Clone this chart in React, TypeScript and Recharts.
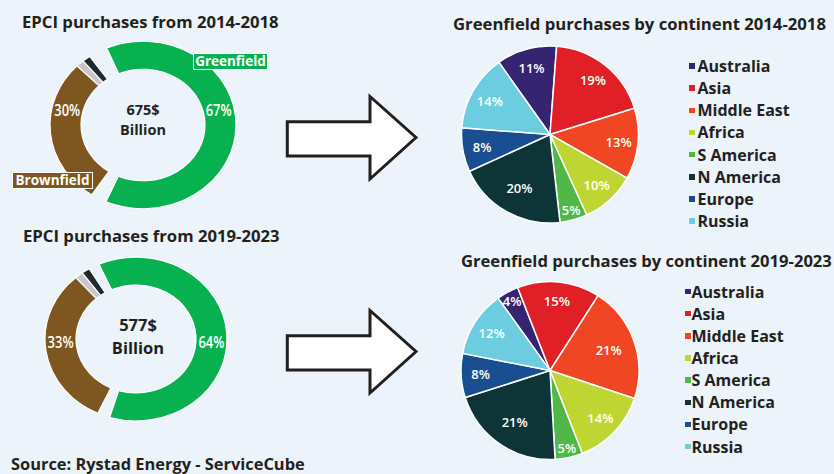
import React from 'react';
import { PieChart, Pie, Cell, Legend } from 'recharts';

const FONT = '"Open Sans", "Noto Sans", sans-serif';
const INK = '#231F20';
const BG = '#EDF3FA';

// ---- Donut data (EPCI purchases) ----
const donutCategories = ['Greenfield', 'Brownfield', 'Other A', 'Other B'];
const donutColors = ['#08B14F', '#7E561F', '#C9C6CA', '#1F2A2D'];
const donut2014Values = [67, 30, 1.5, 1.5];
const donut2019Values = [64, 33, 1.5, 1.5];
const donut2014Total = '675$';
const donut2019Total = '577$';
const donutTotalUnit = 'Billion';

// ---- Pie data (Greenfield purchases by continent) ----
const continents = ['Australia', 'Asia', 'Middle East', 'Africa', 'S America', 'N America', 'Europe', 'Russia'];
const continentColors = ['#352570', '#E01F27', '#F04624', '#BFD531', '#51B848', '#0D3537', '#194F91', '#6DCDE0'];
const greenfield2014 = [11, 19, 13, 10, 5, 20, 8, 14];
const greenfield2019 = [4, 15, 21, 14, 5, 21, 8, 12];

const RAD = Math.PI / 180;
const SY = 0.9; // vertical squash of the donuts

type Row = { name: string; value: number; fill: string; gap?: boolean };

function buildDonut(values: number[], gapAfterGreenDeg: number, gapBeforeGreenDeg: number): Row[] {
  const sum = values.reduce((a, b) => a + b, 0);
  const k = (360 - gapAfterGreenDeg - gapBeforeGreenDeg) / sum;
  const rows: Row[] = [];
  values.forEach((v, i) => {
    rows.push({ name: donutCategories[i], value: v, fill: donutColors[i] });
    if (i === 0) rows.push({ name: 'gap1', value: gapAfterGreenDeg / k, fill: 'none', gap: true });
  });
  rows.push({ name: 'gap2', value: gapBeforeGreenDeg / k, fill: 'none', gap: true });
  return rows;
}

function buildPie(values: number[]): Row[] {
  return continents.map((c, i) => ({ name: c, value: values[i], fill: continentColors[i] }));
}

const makeDonutLabel = (dyScreen: number) => (p: any) => {
  const name = p?.payload?.name ?? p?.name;
  if (name !== 'Greenfield' && name !== 'Brownfield') return null;
  const r = (p.innerRadius + p.outerRadius) / 2;
  const side = Math.cos(-p.midAngle * RAD) >= 0 ? 1 : -1;
  const dy = dyScreen / SY;
  const x = p.cx + side * Math.sqrt(r * r - dy * dy);
  const y = p.cy + dy;
  return (
    <g transform={`translate(${x},${y}) scale(1,${1 / SY})`}>
      <text
        x={0}
        y={0}
        textAnchor="middle"
        dominantBaseline="central"
        fill="#fff"
        fontFamily={FONT}
        fontWeight={600}
        fontSize={15.5}
        textLength={26}
        lengthAdjust="spacingAndGlyphs"
      >
        {`${p.value}%`}
      </text>
    </g>
  );
};

const renderPieLabel = (p: any) => {
  const pct = p.value;
  const f = pct <= 5 ? 0.89 : pct >= 20 ? 0.7 : 0.78;
  const r = p.outerRadius * f;
  const x = p.cx + r * Math.cos(-p.midAngle * RAD);
  const y = p.cy + r * Math.sin(-p.midAngle * RAD);
  return (
    <text
      x={x}
      y={y}
      textAnchor="middle"
      dominantBaseline="central"
      fill="#fff"
      fontFamily={FONT}
      fontWeight={600}
      fontSize={13}
    >
      {`${pct}%`}
    </text>
  );
};

const makeLegend = (sqSize: number, sqGap: number) => () => {
  return (
    <div style={{ fontFamily: FONT, fontWeight: 700, fontSize: 16, color: INK }}>
      {continents.map((n: string, idx: number) => (
        <div key={n} style={{ height: 22.15, lineHeight: '22px', display: 'flex', alignItems: 'center', whiteSpace: 'nowrap' }}>
          <span
            style={{
              display: 'inline-block',
              width: sqSize,
              height: sqSize,
              background: continentColors[idx],
              marginRight: sqGap,
            }}
          />
          <span>{n}</span>
        </div>
      ))}
    </div>
  );
};

function Donut({ values, top, cx, cy, rOut, rIn, startCw, gapA, gapB, labelDy }: any) {
  const data = buildDonut(values, gapA, gapB);
  const start = 90 - startCw;
  return (
    <div style={{ position: 'absolute', left: 0, top, width: 300, height: 260, transform: `scaleY(${SY})`, transformOrigin: '0 0' }}>
      <PieChart width={300} height={260} margin={{ top: 0, right: 0, bottom: 0, left: 0 }}>
        <Pie
          data={data}
          dataKey="value"
          nameKey="name"
          cx={cx}
          cy={(cy - top) / SY}
          outerRadius={rOut}
          innerRadius={rIn}
          startAngle={start}
          endAngle={start - 360}
          isAnimationActive={false}
          label={makeDonutLabel(labelDy)}
          labelLine={false}
        >
          {data.map((d, i) => (
            <Cell key={i} fill={d.gap ? 'none' : d.fill} stroke={d.gap ? 'none' : '#fff'} strokeWidth={d.gap ? 0 : 1.2} />
          ))}
        </Pie>
      </PieChart>
    </div>
  );
}

function ContinentPie({ values, top, cx, cy, r, startCw, legendLeft, legendTop, sqSize, sqGap }: any) {
  const data = buildPie(values);
  const start = 90 - startCw;
  return (
    <div style={{ position: 'absolute', left: 450, top, width: 384, height: 236 }}>
      <PieChart width={384} height={236} margin={{ top: 0, right: 0, bottom: 0, left: 0 }}>
        <Pie
          data={data}
          dataKey="value"
          nameKey="name"
          cx={cx}
          cy={cy}
          outerRadius={r}
          innerRadius={0}
          startAngle={start}
          endAngle={start - 360}
          isAnimationActive={false}
          label={renderPieLabel}
          labelLine={false}
          stroke="#fff"
          strokeWidth={1.5}
        >
          {data.map((d, i) => (
            <Cell key={i} fill={d.fill} stroke="#fff" strokeWidth={1.5} />
          ))}
        </Pie>
        <Legend
          layout="vertical"
          align="right"
          verticalAlign="top"
          content={makeLegend(sqSize, sqGap)}
          wrapperStyle={{ left: legendLeft, top: legendTop, width: 'auto', height: 'auto' }}
        />
      </PieChart>
    </div>
  );
}

function Arrow({ dy }: { dy: number }) {
  const pts = [
    [287.3, 121.7],
    [370, 121.7],
    [370, 96.5],
    [416, 137.5],
    [370, 179],
    [370, 156],
    [287.3, 156],
  ]
    .map(([x, y]) => `${x},${y + dy}`)
    .join(' ');
  return <polygon points={pts} fill="#fff" stroke={INK} strokeWidth={3} strokeLinejoin="miter" />;
}

const textAbs = (left: number, top: number, size: number, extra: any = {}) => ({
  position: 'absolute' as const,
  left,
  top,
  fontSize: size,
  lineHeight: `${size}px`,
  fontWeight: 700,
  color: INK,
  whiteSpace: 'nowrap' as const,
  fontFamily: FONT,
  ...extra,
});

export default function App() {
  return (
    <div style={{ position: 'absolute', left: 0, top: 0, width: 834, height: 474, background: BG, overflow: 'hidden', fontFamily: FONT }}>
      {/* Left titles */}
      <div style={textAbs(22, 14, 16.7)}>EPCI purchases from 2014-2018</div>
      <div style={textAbs(23, 228, 16.7)}>EPCI purchases from 2019-2023</div>
      <div style={textAbs(11, 456, 16.4)}>Source: Rystad Energy - ServiceCube</div>

      {/* Right titles */}
      <div style={textAbs(453, 16, 16.7)}>Greenfield purchases by continent 2014-2018</div>
      <div style={textAbs(461, 253, 16.6)}>Greenfield purchases by continent 2019-2023</div>

      {/* Donuts */}
      <Donut values={donut2014Values} top={0} cx={143} cy={125} rOut={93} rIn={62} startCw={-23} gapA={10} gapB={12} labelDy={-15} />
      <Donut values={donut2019Values} top={214} cx={136} cy={339} rOut={91} rIn={60} startCw={-24} gapA={8} gapB={7} labelDy={3} />

      {/* Donut center texts */}
      <div style={{ ...textAbs(93, 103, 14.5), width: 100, textAlign: 'center' }}>{donut2014Total}</div>
      <div style={{ ...textAbs(93, 122.5, 14.5), width: 100, textAlign: 'center' }}>{donutTotalUnit}</div>
      <div style={{ ...textAbs(88, 316.5, 16.5), width: 100, textAlign: 'center' }}>{donut2019Total}</div>
      <div style={{ ...textAbs(88, 339.5, 16.5), width: 100, textAlign: 'center' }}>{donutTotalUnit}</div>

      {/* Category tags on first donut */}
      <div
        style={{
          ...textAbs(193, 53, 13.5),
          width: 75,
          height: 17,
          boxSizing: 'border-box',
          background: donutColors[0],
          border: '1px solid #fff',
          color: '#fff',
          textAlign: 'center',
          lineHeight: '15px',
        }}
      >
        {donutCategories[0]}
      </div>
      <div
        style={{
          ...textAbs(12, 172, 13.5),
          width: 81,
          height: 17,
          boxSizing: 'border-box',
          background: donutColors[1],
          border: '1px solid #fff',
          color: '#fff',
          textAlign: 'center',
          lineHeight: '15px',
        }}
      >
        {donutCategories[1]}
      </div>

      {/* Arrows */}
      <svg style={{ position: 'absolute', left: 0, top: 0 }} width={834} height={474}>
        <Arrow dy={0} />
        <Arrow dy={214} />
      </svg>

      {/* Continent pies */}
      <ContinentPie values={greenfield2014} top={0} cx={100} cy={134.5} r={88.5} startCw={-35.3} legendLeft={239} legendTop={55} sqSize={5.5} sqGap={3} />
      <ContinentPie values={greenfield2019} top={240} cx={100} cy={130.5} r={89} startCw={-35.7} legendLeft={235} legendTop={40.5} sqSize={5.5} sqGap={1} />
    </div>
  );
}
